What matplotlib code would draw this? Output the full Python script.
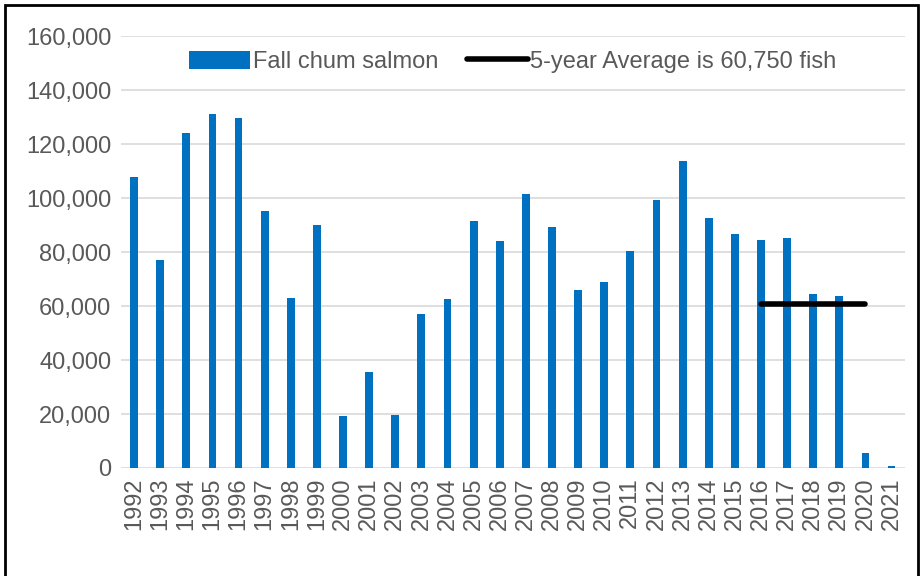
import numpy as np
import matplotlib
matplotlib.use("Agg")
import matplotlib.pyplot as plt
from matplotlib.patches import Rectangle
from matplotlib.ticker import FuncFormatter

plt.rcParams['font.family'] = ['Liberation Sans', 'DejaVu Sans']

years = list(range(1992, 2022))
fish = [107800, 77000, 124000, 131100, 129600, 95200, 63000, 90000, 19300, 35600,
        19600, 57000, 62600, 91500, 84100, 101500, 89300, 66000, 68900, 80400,
        99300, 113700, 92600, 86700, 84400, 85200, 64400, 63700, 5600, 700]
avg_years = [2016, 2020]
avg_value = 60750

blue = "#0070C0"
gray = "#595959"

fig = plt.figure(figsize=(9.24, 5.76), dpi=100)
ax = fig.add_axes([0.131, 0.1875, 0.848, 0.75])

x = np.arange(len(years))
bars = ax.bar(x, fish, width=0.3, color=blue, label="Fall chum salmon", zorder=3)
line, = ax.plot([years.index(y) for y in avg_years], [avg_value, avg_value], color="black",
                lw=4, solid_capstyle="round", label="5-year Average is 60,750 fish", zorder=4)

ax.set_xlim(-0.5, len(years) - 0.5)
ax.set_ylim(0, 160000)
ax.set_yticks(np.arange(0, 160001, 20000))
ax.yaxis.set_major_formatter(FuncFormatter(lambda v, p: f"{int(v):,}"))
ax.set_xticks(x)
ax.set_xticklabels([str(y) for y in years], rotation=90)
ax.tick_params(axis="both", length=0, labelsize=17, colors=gray, pad=7)
ax.grid(axis="y", color="#D9D9D9", lw=1.2, zorder=0)
for s in ax.spines.values():
    s.set_visible(False)

ax.legend([bars, line], [bars.get_label(), line.get_label()],
          loc="center", bbox_to_anchor=(0.5, 0.94), ncol=2, frameon=False,
          fontsize=17, labelcolor=gray, handlelength=2.6, handleheight=0.8,
          handletextpad=0.1, columnspacing=1.2)

fig.patches.append(Rectangle((0.005, -0.1), 0.989, 1.091, transform=fig.transFigure,
                             fill=False, edgecolor="black", lw=2))

fig.savefig("out.png", dpi=100)
